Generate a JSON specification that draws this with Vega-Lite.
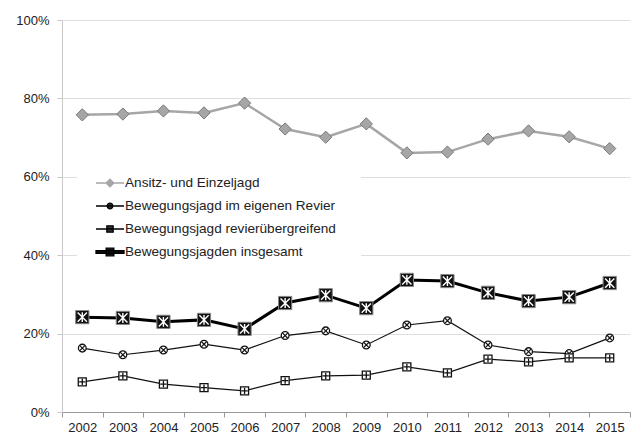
{
  "$schema": "https://vega.github.io/schema/vega-lite/v6.json",
  "width": 568,
  "height": 392,
  "autosize": {"type": "none"},
  "padding": {"left": 62, "top": 20, "right": 1, "bottom": 27},
  "background": "white",
  "config": {
    "font": "Liberation Sans",
    "view": {"stroke": null},
    "legend": {
      "title": null, "orient": "none", "legendX": 15, "legendY": 130,
      "fillColor": "white", "strokeColor": null, "padding": 25,
      "symbolSize": 196, "symbolStrokeWidth": 1.3, "symbolOpacity": 1,
      "labelFontSize": 13.6, "labelColor": "#222", "labelOffset": 7, "labelLimit": 0,
      "rowPadding": 8
    }
  },
  "data": {
    "values": [
      {"year": "2002", "series": "Ansitz- und Einzeljagd", "value": 75.8},
      {"year": "2003", "series": "Ansitz- und Einzeljagd", "value": 76.0},
      {"year": "2004", "series": "Ansitz- und Einzeljagd", "value": 76.8},
      {"year": "2005", "series": "Ansitz- und Einzeljagd", "value": 76.3},
      {"year": "2006", "series": "Ansitz- und Einzeljagd", "value": 78.8},
      {"year": "2007", "series": "Ansitz- und Einzeljagd", "value": 72.2},
      {"year": "2008", "series": "Ansitz- und Einzeljagd", "value": 70.1},
      {"year": "2009", "series": "Ansitz- und Einzeljagd", "value": 73.5},
      {"year": "2010", "series": "Ansitz- und Einzeljagd", "value": 66.1},
      {"year": "2011", "series": "Ansitz- und Einzeljagd", "value": 66.3},
      {"year": "2012", "series": "Ansitz- und Einzeljagd", "value": 69.6},
      {"year": "2013", "series": "Ansitz- und Einzeljagd", "value": 71.7},
      {"year": "2014", "series": "Ansitz- und Einzeljagd", "value": 70.2},
      {"year": "2015", "series": "Ansitz- und Einzeljagd", "value": 67.2},
      {"year": "2002", "series": "Bewegungsjagd im eigenen Revier", "value": 16.3},
      {"year": "2003", "series": "Bewegungsjagd im eigenen Revier", "value": 14.6},
      {"year": "2004", "series": "Bewegungsjagd im eigenen Revier", "value": 15.8},
      {"year": "2005", "series": "Bewegungsjagd im eigenen Revier", "value": 17.3},
      {"year": "2006", "series": "Bewegungsjagd im eigenen Revier", "value": 15.8},
      {"year": "2007", "series": "Bewegungsjagd im eigenen Revier", "value": 19.5},
      {"year": "2008", "series": "Bewegungsjagd im eigenen Revier", "value": 20.7},
      {"year": "2009", "series": "Bewegungsjagd im eigenen Revier", "value": 17.1},
      {"year": "2010", "series": "Bewegungsjagd im eigenen Revier", "value": 22.2},
      {"year": "2011", "series": "Bewegungsjagd im eigenen Revier", "value": 23.3},
      {"year": "2012", "series": "Bewegungsjagd im eigenen Revier", "value": 17.1},
      {"year": "2013", "series": "Bewegungsjagd im eigenen Revier", "value": 15.4},
      {"year": "2014", "series": "Bewegungsjagd im eigenen Revier", "value": 14.9},
      {"year": "2015", "series": "Bewegungsjagd im eigenen Revier", "value": 18.9},
      {"year": "2002", "series": "Bewegungsjagd revierübergreifend", "value": 7.7},
      {"year": "2003", "series": "Bewegungsjagd revierübergreifend", "value": 9.2},
      {"year": "2004", "series": "Bewegungsjagd revierübergreifend", "value": 7.1},
      {"year": "2005", "series": "Bewegungsjagd revierübergreifend", "value": 6.2},
      {"year": "2006", "series": "Bewegungsjagd revierübergreifend", "value": 5.4},
      {"year": "2007", "series": "Bewegungsjagd revierübergreifend", "value": 8.0},
      {"year": "2008", "series": "Bewegungsjagd revierübergreifend", "value": 9.2},
      {"year": "2009", "series": "Bewegungsjagd revierübergreifend", "value": 9.4},
      {"year": "2010", "series": "Bewegungsjagd revierübergreifend", "value": 11.5},
      {"year": "2011", "series": "Bewegungsjagd revierübergreifend", "value": 10.0},
      {"year": "2012", "series": "Bewegungsjagd revierübergreifend", "value": 13.5},
      {"year": "2013", "series": "Bewegungsjagd revierübergreifend", "value": 12.8},
      {"year": "2014", "series": "Bewegungsjagd revierübergreifend", "value": 13.8},
      {"year": "2015", "series": "Bewegungsjagd revierübergreifend", "value": 13.8},
      {"year": "2002", "series": "Bewegungsjagden insgesamt", "value": 24.2},
      {"year": "2003", "series": "Bewegungsjagden insgesamt", "value": 24.0},
      {"year": "2004", "series": "Bewegungsjagden insgesamt", "value": 23.0},
      {"year": "2005", "series": "Bewegungsjagden insgesamt", "value": 23.5},
      {"year": "2006", "series": "Bewegungsjagden insgesamt", "value": 21.2},
      {"year": "2007", "series": "Bewegungsjagden insgesamt", "value": 27.8},
      {"year": "2008", "series": "Bewegungsjagden insgesamt", "value": 29.8},
      {"year": "2009", "series": "Bewegungsjagden insgesamt", "value": 26.5},
      {"year": "2010", "series": "Bewegungsjagden insgesamt", "value": 33.7},
      {"year": "2011", "series": "Bewegungsjagden insgesamt", "value": 33.4},
      {"year": "2012", "series": "Bewegungsjagden insgesamt", "value": 30.4},
      {"year": "2013", "series": "Bewegungsjagden insgesamt", "value": 28.3},
      {"year": "2014", "series": "Bewegungsjagden insgesamt", "value": 29.3},
      {"year": "2015", "series": "Bewegungsjagden insgesamt", "value": 32.9}
    ]
  },
  "encoding": {
    "x": {
      "field": "year", "type": "ordinal",
      "scale": {"type": "band", "paddingInner": 0, "paddingOuter": 0},
      "axis": {
        "title": null, "labelAngle": 0, "tickBand": "extent",
        "labelFontSize": 13, "labelColor": "#222", "labelPadding": 4,
        "tickSize": 5, "tickColor": "#999", "domainColor": "#999", "grid": false
      }
    },
    "y": {
      "field": "value", "type": "quantitative",
      "scale": {"domain": [0, 100], "nice": false},
      "axis": {
        "title": null, "values": [0, 20, 40, 60, 80, 100],
        "labelExpr": "datum.value + '%'",
        "labelFontSize": 13, "labelColor": "#222", "labelPadding": 8,
        "tickSize": 5, "tickColor": "#c8c8c8", "domainColor": "#c8c8c8",
        "gridColor": "#dedede", "gridWidth": 1
      }
    }
  },
  "layer": [
    {
      "transform": [{"filter": "datum.series === 'Ansitz- und Einzeljagd'"}],
      "mark": {"type": "line", "color": "#a6a6a6", "strokeWidth": 2.5}
    },
    {
      "transform": [{"filter": "datum.series === 'Bewegungsjagd im eigenen Revier'"}],
      "mark": {"type": "line", "color": "#111", "strokeWidth": 1.2}
    },
    {
      "transform": [{"filter": "datum.series === 'Bewegungsjagd revierübergreifend'"}],
      "mark": {"type": "line", "color": "#111", "strokeWidth": 1.2}
    },
    {
      "transform": [{"filter": "datum.series === 'Bewegungsjagden insgesamt'"}],
      "mark": {"type": "line", "color": "#000", "strokeWidth": 3}
    },
    {
      "transform": [{"filter": "datum.series === 'Ansitz- und Einzeljagd'"}],
      "mark": {"type": "point", "shape": "diamond", "size": 150, "filled": true, "fill": "#a6a6a6", "stroke": "#7a7a7a", "strokeWidth": 1, "opacity": 1}
    },
    {
      "transform": [{"filter": "datum.series === 'Bewegungsjagd im eigenen Revier'"}],
      "mark": {"type": "point", "shape": "circle", "size": 60, "filled": true, "fill": "white", "stroke": "#111", "strokeWidth": 1.3, "opacity": 1}
    },
    {
      "transform": [{"filter": "datum.series === 'Bewegungsjagd im eigenen Revier'"}],
      "mark": {"type": "point", "shape": "M-0.7,-0.7L0.7,0.7M-0.7,0.7L0.7,-0.7", "size": 60, "filled": false, "stroke": "#111", "strokeWidth": 1.2, "opacity": 1}
    },
    {
      "transform": [{"filter": "datum.series === 'Bewegungsjagd revierübergreifend'"}],
      "mark": {"type": "point", "shape": "square", "size": 64, "filled": true, "fill": "white", "stroke": "#111", "strokeWidth": 1.3, "opacity": 1}
    },
    {
      "transform": [{"filter": "datum.series === 'Bewegungsjagd revierübergreifend'"}],
      "mark": {"type": "point", "shape": "M0,-0.8L0,0.8M-0.8,0L0.8,0", "size": 64, "filled": false, "stroke": "#111", "strokeWidth": 1.3, "opacity": 1}
    },
    {
      "transform": [{"filter": "datum.series === 'Bewegungsjagden insgesamt'"}],
      "mark": {"type": "point", "shape": "square", "size": 175, "filled": true, "fill": "#111", "stroke": "#888", "strokeWidth": 1, "opacity": 1}
    },
    {
      "transform": [{"filter": "datum.series === 'Bewegungsjagden insgesamt'"}],
      "mark": {"type": "point", "shape": "M-0.7,-0.7L0.7,0.7M-0.7,0.7L0.7,-0.7M0,-0.75L0,0.75", "size": 175, "filled": false, "stroke": "white", "strokeWidth": 1.4, "opacity": 1}
    },
    {
      "mark": {"type": "point", "filled": true, "opacity": 0},
      "encoding": {
        "shape": {
          "field": "series", "type": "nominal",
          "scale": {
            "domain": ["Ansitz- und Einzeljagd", "Bewegungsjagd im eigenen Revier", "Bewegungsjagd revierübergreifend", "Bewegungsjagden insgesamt"],
            "range": [
              "M-2,0L2,0M0,-0.55L0.55,0L0,0.55L-0.55,0Z",
              "M-2,0L2,0M-0.4,0A0.4,0.4 0 1,0 0.4,0A0.4,0.4 0 1,0 -0.4,0Z",
              "M-2,0L2,0M-0.45,-0.45L0.45,-0.45L0.45,0.45L-0.45,0.45Z",
              "M-2,-0.2L2,-0.2L2,0.2L-2,0.2ZM-0.55,-0.55L0.55,-0.55L0.55,0.55L-0.55,0.55Z"
            ]
          },
          "legend": {"encode": {"symbols": {"update": {"opacity": {"value": 1}}}}}
        },
        "fill": {
          "field": "series", "type": "nominal",
          "scale": {
            "domain": ["Ansitz- und Einzeljagd", "Bewegungsjagd im eigenen Revier", "Bewegungsjagd revierübergreifend", "Bewegungsjagden insgesamt"],
            "range": ["#a6a6a6", "#333", "#333", "#111"]
          },
          "legend": {"encode": {"symbols": {"update": {"opacity": {"value": 1}}}}}
        },
        "stroke": {
          "field": "series", "type": "nominal",
          "scale": {
            "domain": ["Ansitz- und Einzeljagd", "Bewegungsjagd im eigenen Revier", "Bewegungsjagd revierübergreifend", "Bewegungsjagden insgesamt"],
            "range": ["#a6a6a6", "#000", "#000", "#000"]
          },
          "legend": {"encode": {"symbols": {"update": {"opacity": {"value": 1}}}}}
        }
      }
    }
  ]
}
